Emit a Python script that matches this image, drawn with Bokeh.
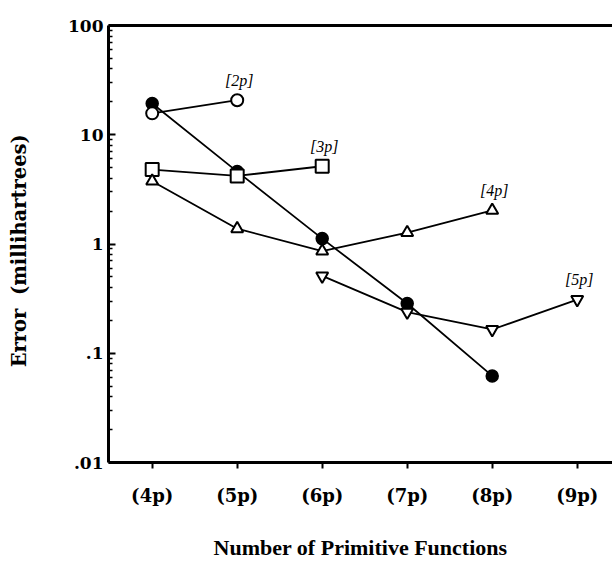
from bokeh.plotting import figure
from bokeh.models import Range1d, FixedTicker, LinearAxis
from bokeh.core.properties import value
from bokeh.embed import file_html
from bokeh.resources import INLINE

# ---- data ----
x_pos = [4, 5, 6, 7, 8, 9]
x_labels = ["(4p)", "(5p)", "(6p)", "(7p)", "(8p)", "(9p)"]

y_ticks = [0.01, 0.1, 1, 10, 100]
y_labels = [".01", ".1", "1", "10", "100"]

full_x = [4, 5, 6, 7, 8]
full_y = [19.3, 4.6, 1.12, 0.285, 0.062]

p2_x = [4, 5]
p2_y = [15.7, 20.7]

p3_x = [4, 5, 6]
p3_y = [4.8, 4.2, 5.15]

p4_x = [4, 5, 6, 7, 8]
p4_y = [3.76, 1.38, 0.86, 1.27, 2.03]

p5_x = [6, 7, 8, 9]
p5_y = [0.51, 0.238, 0.165, 0.31]

series_names = ["[2p]", "[3p]", "[4p]", "[5p]"]

SERIF = "Liberation Serif"
WIDE = "DejaVu Serif"

p = figure(width=612, height=562,
           x_range=Range1d(3.486, 9.415), y_range=Range1d(0.01, 100),
           y_axis_type="log", output_backend="svg", toolbar_location=None,
           min_border_left=108, min_border_right=0,
           min_border_top=25, min_border_bottom=99)
p.grid.visible = False
p.outline_line_color = None
p.background_fill_color = "white"
p.border_fill_color = "white"

# x axis
xa = p.xaxis[0]
xa.ticker = FixedTicker(ticks=x_pos)
xa.major_label_overrides = {v: s for v, s in zip(x_pos, x_labels)}
xa.axis_line_width = 3
xa.axis_line_color = "black"
xa.major_tick_in = 0
xa.major_tick_out = 6
xa.major_tick_line_width = 2
xa.minor_tick_line_color = None
xa.major_label_standoff = 16
xa.major_label_text_font = WIDE
xa.major_label_text_font_style = "bold"
xa.major_label_text_font_size = "18px"
xa.major_label_text_color = "black"
xa.axis_label = "Number of Primitive Functions"
xa.axis_label_text_font = SERIF
xa.axis_label_text_font_style = "bold"
xa.axis_label_text_font_size = "22px"
xa.axis_label_text_color = "black"
xa.axis_label_standoff = 26

# y axis
ya = p.yaxis[0]
minor = [k * 10.0 ** e for e in range(-2, 2) for k in range(2, 10)]
ya.ticker = FixedTicker(ticks=y_ticks, minor_ticks=minor)
ya.major_label_overrides = {v: s for v, s in zip(y_ticks, y_labels)}
ya.axis_line_width = 3
ya.axis_line_color = "black"
ya.major_tick_in = 7
ya.major_tick_out = 0
ya.major_tick_line_width = 2
ya.minor_tick_in = 4
ya.minor_tick_out = 0
ya.minor_tick_line_width = 1.5
ya.major_label_standoff = 5
ya.major_label_text_font = WIDE
ya.major_label_text_font_style = "bold"
ya.major_label_text_font_size = "17px"
ya.major_label_text_color = "black"
ya.axis_label = "Error\u00a0\u00a0(millihartrees)\u00a0\u00a0"
ya.axis_label_text_font = WIDE
ya.axis_label_text_font_style = "bold"
ya.axis_label_text_font_size = "19.5px"
ya.axis_label_text_color = "black"
ya.axis_label_standoff = 34

# top frame line
top = LinearAxis(ticker=FixedTicker(ticks=[]), axis_line_width=3,
                 axis_line_color="black", major_tick_line_color=None,
                 minor_tick_line_color=None, major_label_text_font_size="0px")
p.add_layout(top, "above")

LW = 1.8
# filled circle series
p.line(full_x, full_y, line_color="black", line_width=LW)
p.scatter(full_x, full_y, marker="circle", size=12, fill_color="black",
          line_color="black", line_width=1.5)

# [2p]
p.line(p2_x, p2_y, line_color="black", line_width=LW)
p.scatter(p2_x, p2_y, marker="circle", size=12, fill_color="white",
          line_color="black", line_width=2)

# [3p]
p.line(p3_x, p3_y, line_color="black", line_width=LW)
p.scatter(p3_x, p3_y, marker="square", size=13, fill_color="white",
          line_color="black", line_width=2)

# [4p]
p.line(p4_x, p4_y, line_color="black", line_width=LW)
p.scatter(p4_x, p4_y, marker="triangle", size=12, fill_color="white",
          line_color="black", line_width=2)

# [5p]
p.line(p5_x, p5_y, line_color="black", line_width=LW)
p.scatter(p5_x, p5_y, marker="inverted_triangle", size=12, fill_color="white",
          line_color="black", line_width=2)

# series labels at the last point of each series
lab_x = [p2_x[-1], p3_x[-1], p4_x[-1], p5_x[-1]]
lab_y = [p2_y[-1], p3_y[-1], p4_y[-1], p5_y[-1]]
p.text(lab_x, lab_y, text=series_names, x_offset=2, y_offset=-20,
       text_align="center", text_baseline="middle",
       text_font=value(SERIF), text_font_style="italic",
       text_font_size="16px", text_color="black")

open("out.html", "w").write(file_html(p, INLINE))
